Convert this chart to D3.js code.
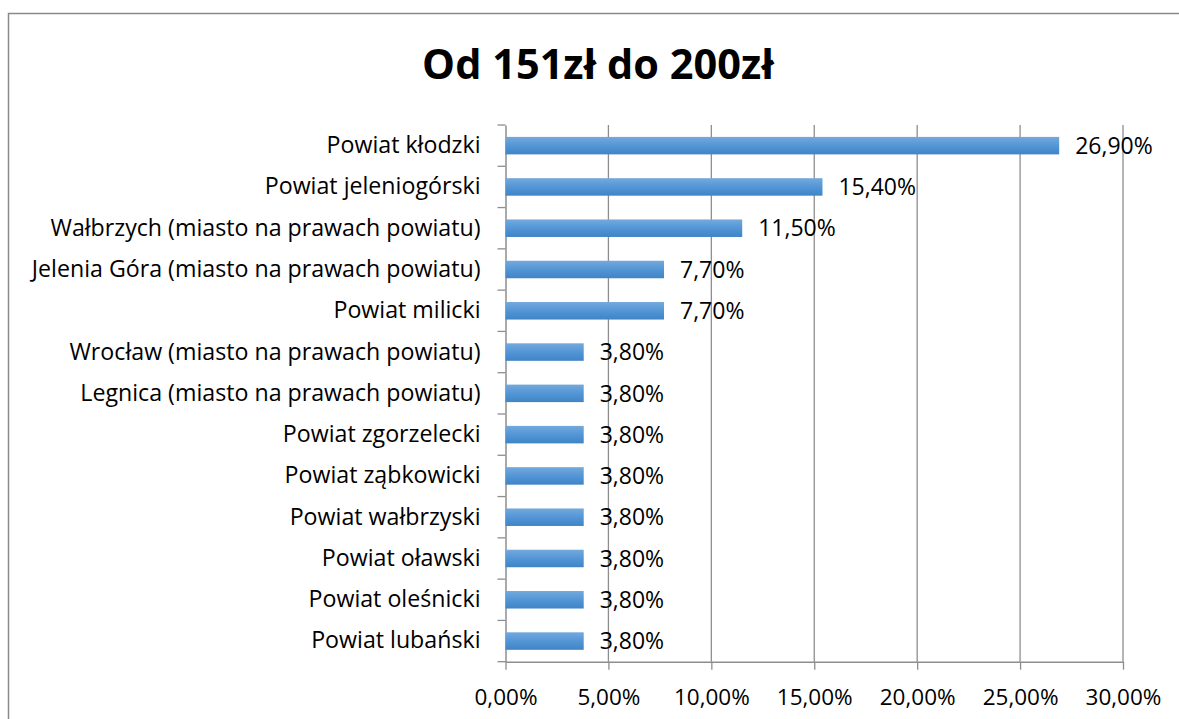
<!DOCTYPE html>
<html>
<head>
<meta charset="utf-8">
<script src="https://cdn.jsdelivr.net/npm/d3@7"></script>
<style>
  body { margin: 0; background: #fff; }
  svg { display: block; }
  text { font-family: "Open Sans", "Noto Sans", sans-serif; fill: #000; }
</style>
</head>
<body>
<script>
var categories = ['Powiat kłodzki', 'Powiat jeleniogórski', 'Wałbrzych (miasto na prawach powiatu)',
                  'Jelenia Góra (miasto na prawach powiatu)', 'Powiat milicki',
                  'Wrocław (miasto na prawach powiatu)', 'Legnica (miasto na prawach powiatu)',
                  'Powiat zgorzelecki', 'Powiat ząbkowicki', 'Powiat wałbrzyski',
                  'Powiat oławski', 'Powiat oleśnicki', 'Powiat lubański']
var values = [0.269, 0.154, 0.115, 0.077, 0.077, 0.038, 0.038, 0.038, 0.038, 0.038, 0.038, 0.038, 0.038]
var xTicks = [0, 0.05, 0.10, 0.15, 0.20, 0.25, 0.30]
var TITLE = 'Od 151zł do 200zł'

var WIDTH = 1179, HEIGHT = 719,
    GRID_COLOR = '#8e8e8e',
    BORDER_COLOR = '#8a8a8a'

var svg = d3.select('body').append('svg')
    .attr('width', WIDTH)
    .attr('height', HEIGHT)

// chart frame (only top and left edges are visible in the crop)
svg.append('path')
    .attr('d', 'M8.5,' + HEIGHT + 'V13.5H' + WIDTH)
    .attr('fill', 'none')
    .attr('stroke', BORDER_COLOR)
    .attr('stroke-width', 1.5)

var defs = svg.append('defs')
var grad = defs.append('linearGradient')
    .attr('id', 'barGrad')
    .attr('x1', 0).attr('y1', 0).attr('x2', 0).attr('y2', 1)
grad.append('stop').attr('offset', '0%').attr('stop-color', '#74a9dc')
grad.append('stop').attr('offset', '50%').attr('stop-color', '#5396d6')
grad.append('stop').attr('offset', '100%').attr('stop-color', '#3f84c6')

var x = d3.scaleLinear().domain([0, 0.30]).range([505.5, 1123])
var y = d3.scaleBand().domain(categories).range([125, 661.7])
    .paddingInner(0.576).paddingOuter(0.288)

var fmt = function(v){ return d3.format('.2%')(v).replace('.', ',') }

// gridlines
svg.append('g').attr('class', 'grid')
    .selectAll('line')
    .data(xTicks.slice(1))
    .enter().append('line')
        .attr('x1', function(d){ return x(d) })
        .attr('x2', function(d){ return x(d) })
        .attr('y1', y.range()[0])
        .attr('y2', y.range()[1])
        .attr('stroke', GRID_COLOR)
        .attr('stroke-width', 1.3)

// x axis
var xAxis = svg.append('g')
    .attr('transform', 'translate(0,' + y.range()[1] + ')')
    .call(d3.axisBottom(x).tickValues(xTicks).tickFormat(fmt).tickSize(8).tickPadding(19).tickSizeOuter(0))
xAxis.select('.domain').attr('stroke', GRID_COLOR).attr('stroke-width', 1.5)
xAxis.selectAll('.tick line').attr('stroke', GRID_COLOR).attr('stroke-width', 1.3)
xAxis.selectAll('text')
    .attr('font-size', 22.5)
    .attr('font-family', '"Open Sans", sans-serif')
    .attr('fill', '#000')

// y axis: line plus ticks at category boundaries
var yAxis = svg.append('g')
    .attr('transform', 'translate(' + x(0) + ',0)')
    .call(d3.axisLeft(y).tickSize(0).tickPadding(25))
yAxis.select('.domain').attr('stroke', GRID_COLOR).attr('stroke-width', 1.5)
yAxis.selectAll('text')
    .attr('font-size', 23.2)
    .attr('font-family', '"Open Sans", sans-serif')
    .attr('fill', '#000')

var bounds = d3.range(categories.length + 1).map(function(i){ return y.range()[0] + i * y.step() })
yAxis.selectAll('line.bound')
    .data(bounds)
    .enter().append('line')
        .attr('class', 'bound')
        .attr('x1', -8).attr('x2', 0)
        .attr('y1', function(d){ return d }).attr('y2', function(d){ return d })
        .attr('stroke', GRID_COLOR)
        .attr('stroke-width', 1.3)

// bars
svg.append('g').attr('class', 'bars')
    .selectAll('rect')
    .data(categories)
    .enter().append('rect')
        .attr('x', x(0))
        .attr('y', function(d){ return y(d) })
        .attr('width', function(d, i){ return x(values[i]) - x(0) })
        .attr('height', y.bandwidth())
        .attr('fill', 'url(#barGrad)')

// value labels
svg.append('g').attr('class', 'labels')
    .selectAll('text')
    .data(categories)
    .enter().append('text')
        .attr('x', function(d, i){ return x(values[i]) + 16 })
        .attr('y', function(d){ return y(d) + y.bandwidth() / 2 })
        .attr('dy', '0.36em')
        .attr('font-size', 23)
        .text(function(d, i){ return fmt(values[i]) })

// title
svg.append('text')
    .attr('x', 598)
    .attr('y', 79)
    .attr('text-anchor', 'middle')
    .attr('font-size', 41.5)
    .attr('font-weight', 'bold')
    .text(TITLE)
</script>
</body>
</html>
